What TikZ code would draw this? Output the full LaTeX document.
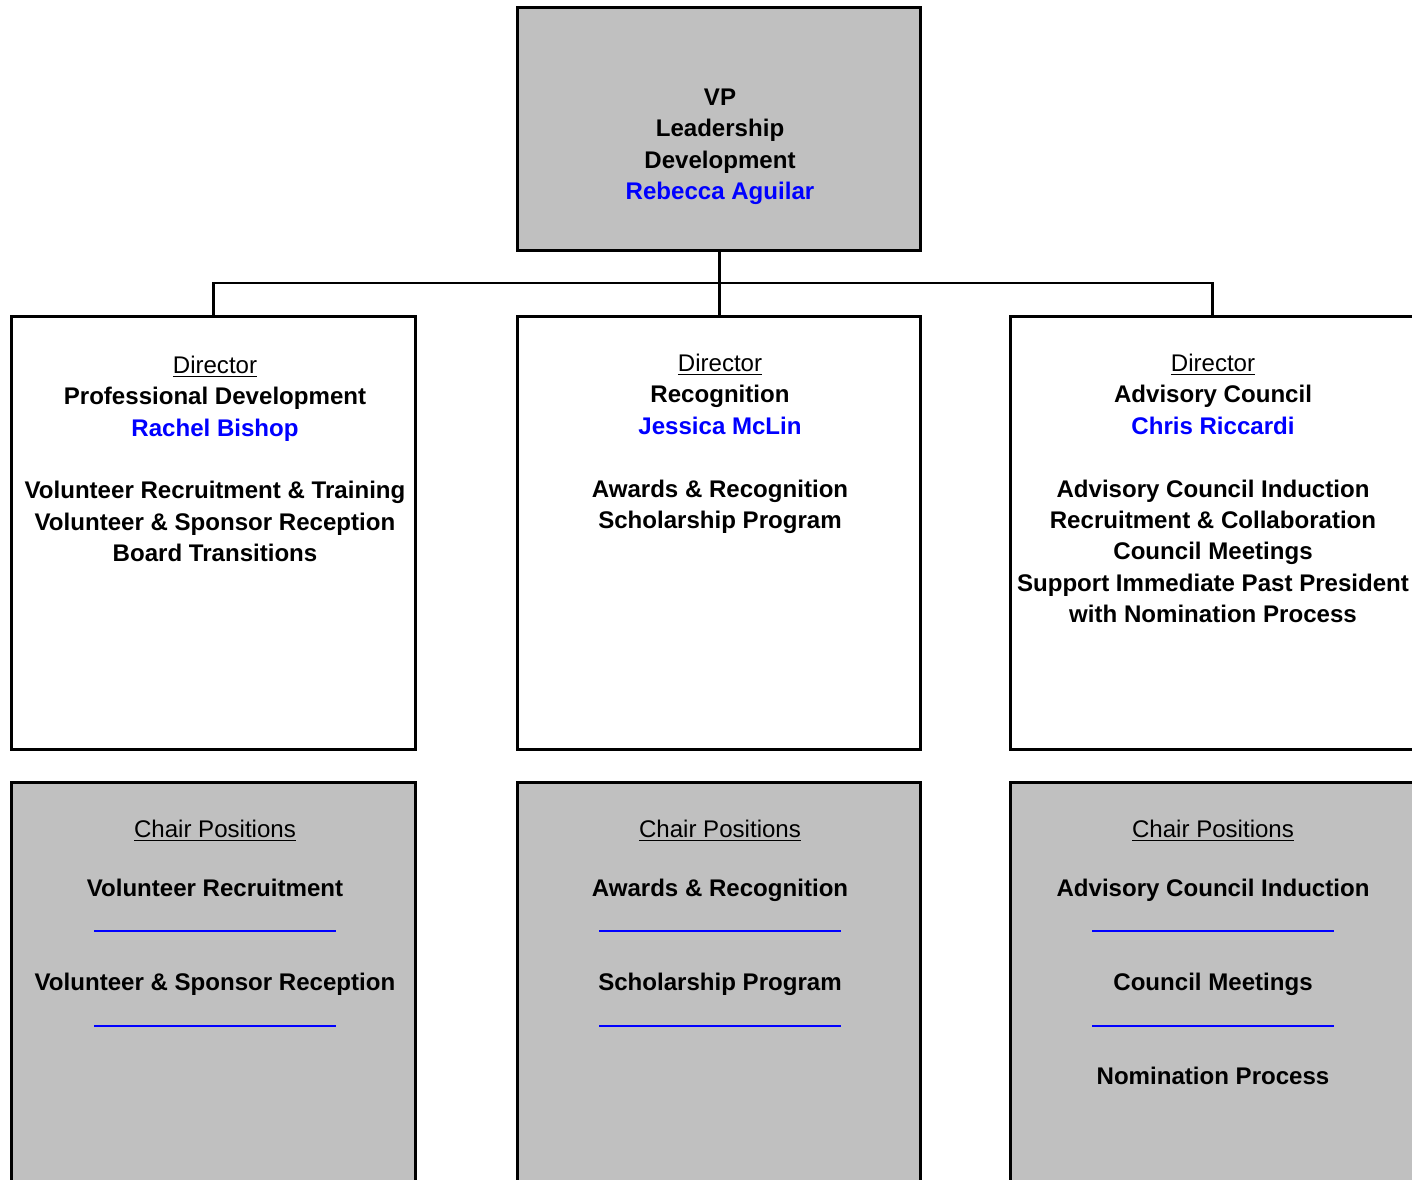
\documentclass[tikz,border=0pt]{standalone}
\usepackage{fontspec}
\setmainfont{Liberation Sans}
\definecolor{boxgray}{RGB}{192,192,192}
\newcommand{\chairblank}{\textcolor{blue}{\rule[-2.6pt]{4.84cm}{1.1pt}}}

\begin{document}
\begin{tikzpicture}[x=0.02cm,y=-0.02cm,
		box/.style={draw,line width=1.7pt,minimum width=8.08cm,inner sep=0pt},
		boxtext/.style={anchor=north,inner sep=0pt,align=center,font=\fontsize{13.7}{17.9}\selectfont\bfseries},
		conn/.style={line width=1.7pt}]
		\clip (0,0) rectangle (1412,1179);
		
		\node (vp) at (719,129) [box,fill=boxgray,minimum height=4.88cm] {};
		\node (vptext) at (720,88.5) [boxtext] {VP\\Leadership\\Development\\\textcolor{blue}{Rebecca Aguilar}};
		
		\node (dirPD) at (213.5,533) [box,minimum height=8.68cm] {};
		\node (dirRC) at (719,533) [box,minimum height=8.68cm] {};
		\node (dirAC) at (1212,533) [box,minimum height=8.68cm] {};
		\node (dirPDtext) at (215,355.4) [boxtext] {\underline{\mdseries Director}\\Professional Development\\\textcolor{blue}{Rachel Bishop}\\[17.9pt]Volunteer Recruitment \& Training\\Volunteer \& Sponsor Reception\\Board Transitions};
		\node (dirRCtext) at (720,353.5) [boxtext] {\underline{\mdseries Director}\\Recognition\\\textcolor{blue}{Jessica McLin}\\[17.9pt]Awards \& Recognition\\Scholarship Program};
		\node (dirACtext) at (1213,353.5) [boxtext] {\underline{\mdseries Director}\\Advisory Council\\\textcolor{blue}{Chris Riccardi}\\[17.9pt]Advisory Council Induction\\Recruitment \& Collaboration\\Council Meetings\\Support Immediate Past President\\with Nomination Process};
		
		\node (chairPD) at (213.5,999) [box,fill=boxgray,minimum height=8.68cm] {};
		\node (chairRC) at (719,999) [box,fill=boxgray,minimum height=8.68cm] {};
		\node (chairAC) at (1212,999) [box,fill=boxgray,minimum height=8.68cm] {};
		\node (chairPDtext) at (215,819.5) [boxtext] {\underline{\mdseries Chair Positions}\\[15.6pt]Volunteer Recruitment\\\chairblank\\[17.9pt]Volunteer \& Sponsor Reception\\\chairblank};
		\node (chairRCtext) at (720,819.5) [boxtext] {\underline{\mdseries Chair Positions}\\[15.6pt]Awards \& Recognition\\\chairblank\\[17.9pt]Scholarship Program\\\chairblank};
		\node (chairACtext) at (1213,819.5) [boxtext] {\underline{\mdseries Chair Positions}\\[15.6pt]Advisory Council Induction\\\chairblank\\[17.9pt]Council Meetings\\\chairblank\\[17.9pt]Nomination Process};
		
		\coordinate (bus) at (719,283);
		\draw [conn] (vp.south) -- (dirRC.north);
		\draw [conn] (dirPD.north) |- (bus) -| (dirAC.north);
\end{tikzpicture}
\end{document}
